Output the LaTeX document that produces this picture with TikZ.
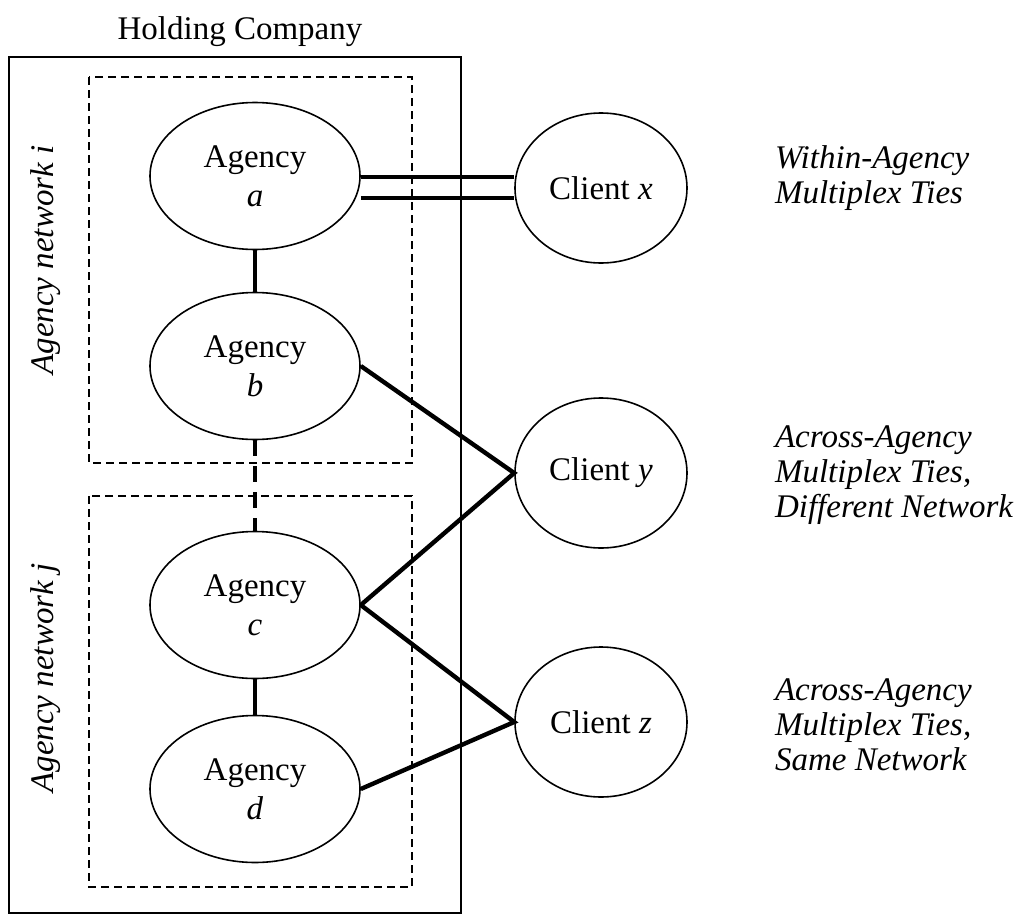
\documentclass[tikz,border=0pt]{standalone}
\usepackage{fontspec}
\setmainfont{Liberation Serif}
\usetikzlibrary{shapes.geometric}

\begin{document}
\begin{tikzpicture}[x=0.5pt, y=-0.5pt,
        every node/.style={font=\fontsize{16.5}{19.5}\selectfont},
        agency/.style={draw, thick, ellipse, inner sep=0pt, align=center,
            minimum width=105pt, minimum height=73.5pt},
        client/.style={draw, thick, ellipse, inner sep=0pt,
            minimum width=86pt, minimum height=75pt},
        tie/.style={line width=2.2pt},
        netbox/.style={thick, dash pattern=on 4pt off 2.5pt},
        note/.style={anchor=west, align=left, font=\fontsize{16.5}{17.5}\selectfont\itshape}]
        \useasboundingbox (0,0) rectangle (1018,916);

        % holding company and the two networks
        \node (holding) at (240,32) {Holding Company};
        \draw[thick] (9,57) rectangle (461,913);
        \draw[netbox] (89,77) rectangle (412,463);
        \draw[netbox] (89,496) rectangle (412,887);
        \node[rotate=90] (net-i) at (46,260) {\itshape Agency network i};
        \node[rotate=90] (net-j) at (46,678) {\itshape Agency network j};

        % agencies
        \node[agency] (ag-a) at (255,176) {Agency\\\textit{a}};
        \node[agency] (ag-b) at (255,366) {Agency\\\textit{b}};
        \node[agency] (ag-c) at (255,605) {Agency\\\textit{c}};
        \node[agency] (ag-d) at (255,789) {Agency\\\textit{d}};

        % clients
        \node[client] (cl-x) at (601,188) {Client \textit{x}};
        \node[client] (cl-y) at (601,473) {Client \textit{y}};
        \node[client] (cl-z) at (601,722) {Client \textit{z}};

        % ties
        \draw[tie] (ag-a) -- (ag-b);
        \draw[tie, dash pattern=on 8pt off 5pt] (ag-b) -- (ag-c);
        \draw[tie] (ag-c) -- (ag-d);
        \draw[tie] ([yshift=-0.5pt]ag-a.east) -- ([yshift=-0.5pt]ag-a.east -| cl-x.west);
        \draw[tie] ([yshift=-11pt]ag-a.east) -- ([yshift=-11pt]ag-a.east -| cl-x.west);
        \draw[tie] (ag-b.east) -- (cl-y.west) -- (ag-c.east);
        \draw[tie] (ag-c.east) -- (cl-z.west) -- (ag-d.east);

        % notes
        \node[note] (note-x) at (768,178) {Within-Agency\\Multiplex Ties};
        \node[note] (note-y) at (768,475) {Across-Agency\\Multiplex Ties,\\Different Network};
        \node[note] (note-z) at (768,725) {Across-Agency\\Multiplex Ties,\\Same Network};
    \end{tikzpicture}
\end{document}
